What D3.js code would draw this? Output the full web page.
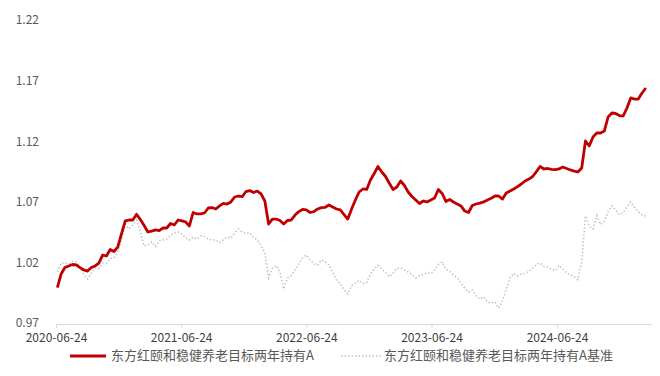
<!DOCTYPE html>
<html><head><meta charset="utf-8">
<script src="https://cdn.jsdelivr.net/npm/d3@7/dist/d3.min.js"></script>
<style>
html,body{margin:0;padding:0;background:#fff;}
text{font-family:"Noto Sans CJK SC","Noto Sans",sans-serif;}
</style></head>
<body><svg id="c" width="660" height="376"></svg>
<script>
const seriesNames = ["东方红颐和稳健养老目标两年持有A", "东方红颐和稳健养老目标两年持有A基准"];
const startDate = "2020-06-28";
const stepDays = 11;
const fundNav = [1.0000,1.0113,1.0166,1.0179,1.0191,1.0187,1.0165,1.0146,1.0137,1.0166,
1.0179,1.0203,1.0269,1.0261,1.0315,1.0298,1.0335,1.0443,1.0550,1.0558,
1.0558,1.0605,1.0562,1.0513,1.0459,1.0467,1.0476,1.0471,1.0492,1.0492,
1.0529,1.0517,1.0558,1.0550,1.0542,1.0509,1.0620,1.0608,1.0608,1.0616,
1.0657,1.0661,1.0649,1.0674,1.0696,1.0690,1.0707,1.0748,1.0756,1.0750,
1.0793,1.0801,1.0785,1.0797,1.0773,1.0715,1.0525,1.0566,1.0566,1.0554,
1.0525,1.0554,1.0558,1.0599,1.0627,1.0645,1.0641,1.0620,1.0627,1.0649,
1.0660,1.0663,1.0682,1.0665,1.0649,1.0641,1.0603,1.0566,1.0649,1.0723,
1.0789,1.0814,1.0810,1.0888,1.0942,1.1000,1.0954,1.0917,1.0861,1.0810,
1.0830,1.0880,1.0843,1.0789,1.0752,1.0723,1.0694,1.0715,1.0707,1.0723,
1.0740,1.0810,1.0777,1.0711,1.0727,1.0707,1.0690,1.0674,1.0632,1.0620,
1.0678,1.0690,1.0698,1.0707,1.0723,1.0737,1.0756,1.0756,1.0731,1.0781,
1.0797,1.0814,1.0833,1.0855,1.0880,1.0896,1.0917,1.0958,1.1000,1.0979,
1.0983,1.0976,1.0973,1.0979,1.0995,1.0983,1.0971,1.0962,1.0954,1.0987,
1.1210,1.1169,1.1243,1.1276,1.1276,1.1292,1.1408,1.1441,1.1437,1.1420,
1.1416,1.1482,1.1565,1.1556,1.1556,1.1606,1.1647];
const benchNav = [1.0130,1.0203,1.0203,1.0195,1.0216,1.0212,1.0173,1.0104,1.0071,1.0121,
1.0160,1.0154,1.0203,1.0203,1.0240,1.0245,1.0294,1.0393,1.0521,1.0484,
1.0517,1.0558,1.0459,1.0344,1.0352,1.0377,1.0339,1.0385,1.0393,1.0401,
1.0434,1.0451,1.0459,1.0443,1.0410,1.0393,1.0418,1.0401,1.0426,1.0422,
1.0401,1.0393,1.0393,1.0372,1.0393,1.0418,1.0410,1.0451,1.0484,1.0459,
1.0447,1.0451,1.0414,1.0393,1.0344,1.0286,1.0080,1.0158,1.0183,1.0129,
0.9989,1.0080,1.0100,1.0146,1.0195,1.0245,1.0269,1.0228,1.0199,1.0187,
1.0228,1.0214,1.0187,1.0129,1.0063,1.0034,0.9981,0.9948,1.0018,1.0038,
1.0059,1.0034,1.0042,1.0113,1.0154,1.0183,1.0154,1.0125,1.0090,1.0121,
1.0158,1.0162,1.0146,1.0129,1.0108,1.0080,1.0100,1.0108,1.0121,1.0117,
1.0146,1.0191,1.0212,1.0154,1.0137,1.0104,1.0080,1.0038,0.9997,0.9964,
0.9981,0.9931,0.9906,0.9923,0.9882,0.9873,0.9882,0.9832,0.9890,0.9989,
1.0080,1.0117,1.0096,1.0113,1.0117,1.0133,1.0162,1.0191,1.0203,1.0174,
1.0170,1.0150,1.0141,1.0183,1.0154,1.0121,1.0104,1.0090,1.0067,1.0212,
1.0591,1.0509,1.0484,1.0595,1.0521,1.0546,1.0627,1.0674,1.0641,1.0603,
1.0620,1.0665,1.0707,1.0665,1.0627,1.0599,1.0591];
const yTicks = [0.97, 1.02, 1.07, 1.12, 1.17, 1.22];
const xTickLabels = ["2020-06-24", "2021-06-24", "2022-06-24", "2023-06-24", "2024-06-24"];

const parse = d3.timeParse("%Y-%m-%d");
const fmt = d3.timeFormat("%Y-%m-%d");
const t0 = parse(startDate);
const dates = fundNav.map((_, i) => d3.timeDay.offset(t0, i * stepDays));
const xTickDates = xTickLabels.map(parse);

const svg = d3.select("#c");
const x = d3.scaleTime().domain([xTickDates[0], xTickDates[4]]).range([56, 557]);
const y = d3.scaleLinear().domain([0.97, 1.22]).range([324, 21]);

// y labels
const yAxis = d3.axisLeft(y).tickValues(yTicks).tickFormat(d3.format(".2f")).tickSize(0).tickPadding(0);
const gy = svg.append("g").attr("transform", "translate(39,-1)").call(yAxis);
gy.select(".domain").remove();
gy.selectAll("text").attr("fill", "#595959").style("font-size", "12px");

// x axis
const xAxis = d3.axisBottom(x).tickValues(xTickDates).tickFormat(fmt).tickSize(4).tickPadding(5);
const gx = svg.append("g").attr("transform", "translate(0,324)").call(xAxis);
gx.select(".domain").attr("d", "M56,0.5H652").attr("stroke", "#d9d9d9");
gx.selectAll(".tick line").attr("stroke", "#d9d9d9");
gx.selectAll("text").attr("fill", "#404040").style("font-size", "12px");

const line = d3.line().x((d, i) => x(dates[i])).y(d => y(d));

svg.append("path").datum(benchNav).attr("d", line)
  .attr("fill", "none").attr("stroke", "#c4c4c4").attr("stroke-width", 1.6)
  .attr("stroke-dasharray", "1.5,2");
svg.append("path").datum(fundNav).attr("d", line)
  .attr("fill", "none").attr("stroke", "#c00000").attr("stroke-width", 2.8)
  .attr("stroke-linejoin", "round");

// legend
const lg = svg.append("g").attr("transform", "translate(0,356)");
lg.append("line").attr("x1", 70).attr("x2", 106).attr("y1", 0).attr("y2", 0)
  .attr("stroke", "#c00000").attr("stroke-width", 3);
lg.append("text").attr("x", 111).attr("y", 0).attr("dominant-baseline", "middle")
  .attr("fill", "#595959").style("font-size", "13px").text(seriesNames[0]);
lg.append("line").attr("x1", 341).attr("x2", 381).attr("y1", 0).attr("y2", 0)
  .attr("stroke", "#c4c4c4").attr("stroke-width", 1.5).attr("stroke-dasharray", "1.5,2");
lg.append("text").attr("x", 384).attr("y", 0).attr("dominant-baseline", "middle")
  .attr("fill", "#595959").style("font-size", "13px").text(seriesNames[1]);
</script></body></html>
